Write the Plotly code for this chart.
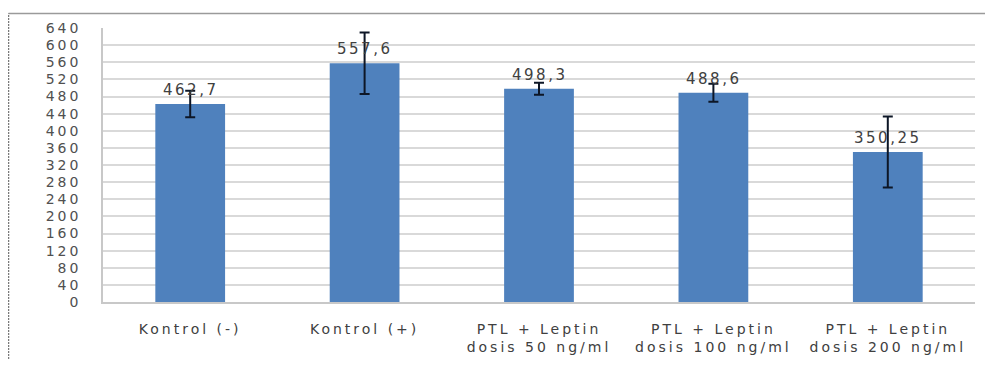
import plotly.graph_objects as go

categories = ["Kontrol (-)", "Kontrol (+)", "PTL + Leptin<br>dosis 50 ng/ml",
              "PTL + Leptin<br>dosis 100 ng/ml", "PTL + Leptin<br>dosis 200 ng/ml"]
values = [462.7, 557.6, 498.3, 488.6, 350.25]
errors = [31, 72, 14, 21, 83]
value_labels = ["462,7", "557,6", "498,3", "488,6", "350,25"]
y_ticks = list(range(0, 641, 40))


def wide(s, ls):
    return "<br>".join(f'<span style="letter-spacing:{ls}px">{part}</span>' for part in s.split("<br>"))


# page body has an 8px margin, so the figure is drawn offset by 8px
OFF = 8
W, H = 993 - OFF, 367 - OFF
ml, mr, mt, mb = 103 - OFF, 18, 25 - OFF, 59

fig = go.Figure()
fig.add_trace(go.Bar(
    x=categories, y=values,
    marker=dict(color="#4F81BD", line=dict(width=0)),
    error_y=dict(type="data", array=errors, visible=True,
                 color="#0d1626", thickness=2, width=5),
    width=0.4,
    hoverinfo="skip",
))

for c, v, t in zip(categories, values, value_labels):
    fig.add_annotation(x=c, y=v, text=wide(t, 2.5), showarrow=False, yshift=14,
                       yanchor="middle", font=dict(family="DejaVu Sans", size=15, color="#404040"))

pw = W - ml - mr
ph = H - mt - mb
# outer border: top line and dotted left line (page coords 10 / 8)
top_y = 1 + (mt - (10 - OFF)) / ph
left_x = ((8.5 - OFF) - ml) / pw
fig.add_shape(type="line", xref="paper", yref="paper",
              x0=left_x, x1=(W - ml) / pw, y0=top_y, y1=top_y,
              line=dict(color="#9a9a9a", width=1.5))
fig.add_shape(type="line", xref="paper", yref="paper",
              x0=left_x, x1=left_x, y0=-mb / ph, y1=top_y,
              line=dict(color="#7a7a7a", width=1.5, dash="2px,1px"))

fig.update_layout(
    width=W, height=H,
    margin=dict(l=ml, r=mr, t=mt, b=mb),
    plot_bgcolor="white", paper_bgcolor="white",
    showlegend=False,
    font=dict(family="DejaVu Sans", size=14, color="#595959"),
    xaxis=dict(showline=True, linecolor="#c8c8c8", linewidth=1.5, ticks="",
               ticklabelstandoff=13,
               tickvals=categories, ticktext=[wide(c, 3) for c in categories],
               tickfont=dict(size=14, color="#404040"), mirror=False),
    yaxis=dict(range=[0, 640], tickvals=y_ticks, ticktext=[wide(str(v), 3) for v in y_ticks],
               showgrid=True, gridcolor="#d9d9d9",
               gridwidth=1.5, showline=True, linecolor="#c8c8c8", linewidth=1.5,
               zeroline=False, ticks="", ticklabelstandoff=17,
               tickfont=dict(size=14, color="#505050")),
)

fig.write_html("out.html")
